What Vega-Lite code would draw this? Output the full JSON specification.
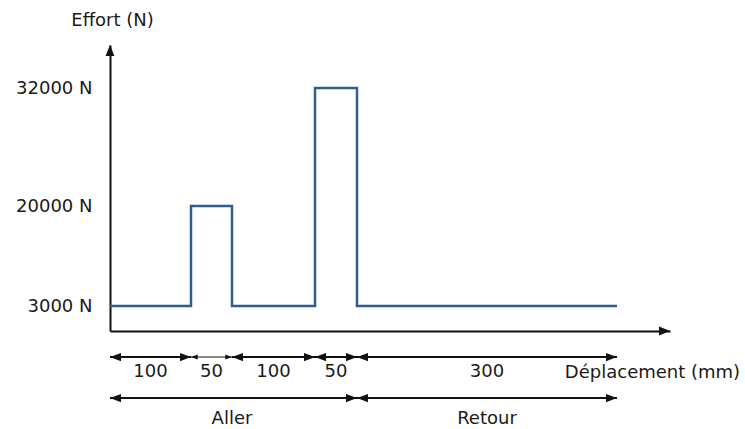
{
  "$schema": "https://vega.github.io/schema/vega-lite/v6.json",
  "width": 560,
  "height": 286,
  "autosize": "none",
  "padding": {"left": 110, "top": 45, "right": 75, "bottom": 98},
  "background": "white",
  "config": {
    "view": {"stroke": null},
    "font": "DejaVu Sans",
    "text": {"font": "DejaVu Sans", "fontSize": 18, "color": "#1a1a1a"}
  },
  "datasets": {
    "effort": [
      {"deplacement": 0, "effort": 3000},
      {"deplacement": 100, "effort": 20000},
      {"deplacement": 150, "effort": 3000},
      {"deplacement": 250, "effort": 32000},
      {"deplacement": 300, "effort": 3000},
      {"deplacement": 600, "effort": 3000}
    ],
    "fleches_axes": [
      {"deplacement": 0, "effort": 40000, "sens": "haut"},
      {"deplacement": 700, "effort": 0, "sens": "droite"}
    ],
    "cotes": [
      {"ligne": "cotes", "debut": 0, "fin": 100, "libelle": "100"},
      {"ligne": "cotes", "debut": 100, "fin": 150, "libelle": "50"},
      {"ligne": "cotes", "debut": 150, "fin": 250, "libelle": "100"},
      {"ligne": "cotes", "debut": 250, "fin": 300, "libelle": "50"},
      {"ligne": "cotes", "debut": 300, "fin": 600, "libelle": "300"},
      {"ligne": "phases", "debut": 0, "fin": 300, "libelle": "Aller"},
      {"ligne": "phases", "debut": 300, "fin": 600, "libelle": "Retour"}
    ]
  },
  "layer": [
    {
      "layer": [
        {
          "data": {"name": "effort"},
          "mark": {"type": "line", "interpolate": "step-after", "color": "#2d5f91", "strokeWidth": 2.5},
          "encoding": {
            "x": {
              "field": "deplacement",
              "type": "quantitative",
              "scale": {"domain": [0, 100, 150, 250, 300, 600, 700], "range": [0, 81, 122, 205, 247, 507, 560], "zero": false, "nice": false},
              "axis": {
                "title": "Déplacement (mm)",
                "labels": false,
                "ticks": false,
                "grid": false,
                "domainColor": "#111",
                "domainWidth": 2,
                "titleFont": "DejaVu Sans",
                "titleFontSize": 18,
                "titleFontWeight": "normal",
                "titleColor": "#1a1a1a",
                "titleX": 542,
                "titleY": 41,
                "titleAlign": "center",
                "titleBaseline": "middle"
              }
            },
            "y": {
              "field": "effort",
              "type": "quantitative",
              "scale": {"domain": [0, 3000, 20000, 32000, 40000], "range": [286, 261, 161, 43, 0], "zero": false, "nice": false},
              "axis": {
                "title": "Effort (N)",
                "values": [3000, 20000, 32000],
                "labelExpr": "datum.value + ' N'",
                "ticks": false,
                "grid": false,
                "domainColor": "#111",
                "domainWidth": 2,
                "labelFont": "DejaVu Sans",
                "labelFontSize": 18,
                "labelColor": "#1a1a1a",
                "labelPadding": 18,
                "titleFont": "DejaVu Sans",
                "titleFontSize": 18,
                "titleFontWeight": "normal",
                "titleColor": "#1a1a1a",
                "titleAngle": 0,
                "titleX": 2,
                "titleY": -25,
                "titleAlign": "center",
                "titleBaseline": "middle"
              }
            }
          }
        },
        {
          "data": {"name": "fleches_axes"},
          "mark": {"type": "point", "filled": true, "color": "#111", "opacity": 1, "size": 121},
          "encoding": {
            "x": {"field": "deplacement", "type": "quantitative"},
            "y": {"field": "effort", "type": "quantitative"},
            "shape": {
              "field": "sens",
              "type": "nominal",
              "scale": {"domain": ["haut", "droite"], "range": ["M0,0L-0.8,2L0.8,2Z", "M0,0L-2,-0.8L-2,0.8Z"]},
              "legend": null
            }
          }
        }
      ]
    },
    {
      "data": {"name": "cotes"},
      "layer": [
        {
          "mark": {"type": "rule", "color": "#111"},
          "encoding": {
            "x": {"field": "debut", "type": "quantitative"},
            "x2": {"field": "fin"},
            "y": {"field": "ligne", "type": "nominal", "scale": {"type": "point", "domain": ["cotes", "phases"], "range": [312, 353], "padding": 0}, "axis": null},
            "strokeWidth": {"condition": {"test": "datum.ligne == 'cotes' && datum.debut == 100", "value": 1}, "value": 2}
          }
        },
        {
          "mark": {"type": "point", "filled": true, "color": "#111", "opacity": 1, "shape": "M0,0L2,-0.75L2,0.75Z"},
          "encoding": {
            "x": {"field": "debut", "type": "quantitative"},
            "y": {"field": "ligne", "type": "nominal", "axis": null},
            "size": {"condition": {"test": "datum.ligne == 'cotes' && datum.debut == 100", "value": 45}, "value": 121}
          }
        },
        {
          "mark": {"type": "point", "filled": true, "color": "#111", "opacity": 1, "shape": "M0,0L-2,-0.75L-2,0.75Z"},
          "encoding": {
            "x": {"field": "fin", "type": "quantitative"},
            "y": {"field": "ligne", "type": "nominal", "axis": null},
            "size": {"condition": {"test": "datum.ligne == 'cotes' && datum.debut == 100", "value": 45}, "value": 121}
          }
        },
        {
          "transform": [
            {"filter": "datum.ligne == 'cotes'"},
            {"fold": ["debut", "fin"], "as": ["borne", "valeur"]},
            {"aggregate": [{"op": "mean", "field": "valeur", "as": "milieu"}], "groupby": ["ligne", "debut", "libelle"]}
          ],
          "mark": {"type": "text", "dy": 15, "baseline": "middle", "align": "center"},
          "encoding": {
            "x": {"field": "milieu", "type": "quantitative"},
            "y": {"field": "ligne", "type": "nominal", "axis": null},
            "text": {"field": "libelle"}
          }
        },
        {
          "transform": [
            {"filter": "datum.ligne == 'phases'"},
            {"fold": ["debut", "fin"], "as": ["borne", "valeur"]},
            {"aggregate": [{"op": "mean", "field": "valeur", "as": "milieu"}], "groupby": ["ligne", "debut", "libelle"]}
          ],
          "mark": {"type": "text", "dy": 21, "baseline": "middle", "align": "center"},
          "encoding": {
            "x": {"field": "milieu", "type": "quantitative"},
            "y": {"field": "ligne", "type": "nominal", "axis": null},
            "text": {"field": "libelle"}
          }
        }
      ]
    }
  ],
  "resolve": {"scale": {"y": "independent"}}
}
